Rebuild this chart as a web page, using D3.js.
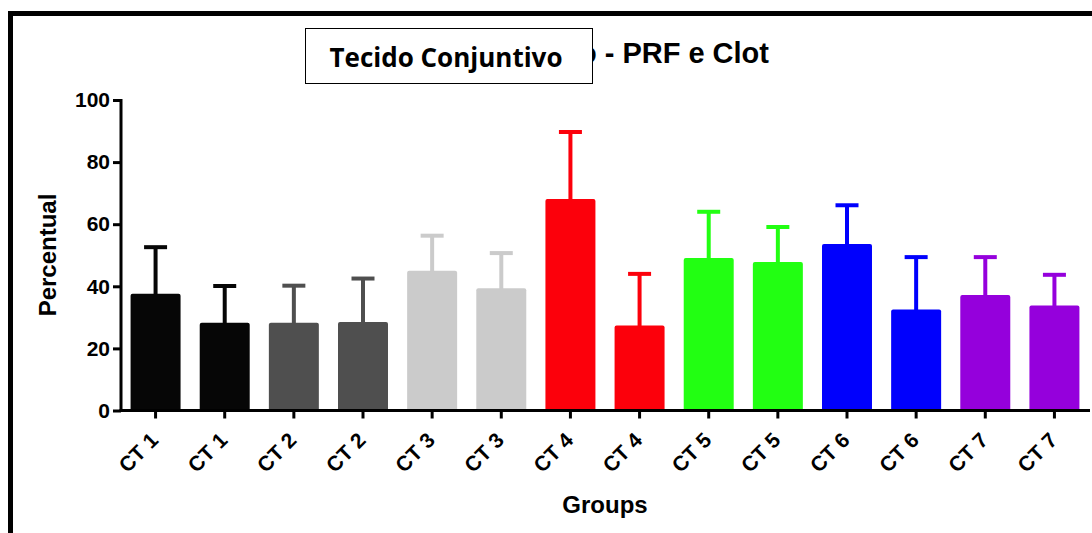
<!DOCTYPE html>
<html>
<head>
<meta charset="utf-8">
<script src="https://cdn.jsdelivr.net/npm/d3@7"></script>
<style>
  body { margin: 0; background: #fff; }
  svg { display: block; }
  text { font-family: "Liberation Sans", Arial, sans-serif; font-weight: bold; }
</style>
</head>
<body>
<svg width="1092" height="533"></svg>
<script>
// data
const groups = ['CT 1', 'CT 1', 'CT 2', 'CT 2', 'CT 3', 'CT 3', 'CT 4', 'CT 4', 'CT 5', 'CT 5', 'CT 6', 'CT 6', 'CT 7', 'CT 7'];
const means = [37.6, 28.3, 28.3, 28.5, 45.0, 39.4, 68.1, 27.4, 49.1, 47.8, 53.6, 32.5, 37.2, 33.8];
const errTops = [52.6, 40.1, 40.2, 42.5, 56.3, 50.7, 89.7, 44.0, 64.0, 59.1, 66.1, 49.4, 49.4, 43.7];
const colors = ['#060606', '#060606', '#4f4f4f', '#4f4f4f', '#cbcbcb', '#cbcbcb', '#fc000b', '#fc000b',
                '#22ff12', '#22ff12', '#0000fd', '#0000fd', '#9500dc', '#9500dc'];
const yTicks = [0, 20, 40, 60, 80, 100];

const data = groups.map((g, i) => ({ i, g, v: means[i], e: errTops[i], c: colors[i] }));

const svg = d3.select('svg');

// frame
svg.append('path')
    .attr('d', 'M10.5,533 V13.5 H1092')
    .attr('fill', 'none')
    .attr('stroke', '#000')
    .attr('stroke-width', 5);

const x = d3.scaleBand()
    .domain(d3.range(groups.length))
    .range([121, 1089])
    .paddingInner(0.277)
    .paddingOuter(0.1385);
const y = d3.scaleLinear().domain([0, 100]).range([410.5, 100]);

// bars
svg.selectAll('.bar')
    .data(data)
    .enter()
    .append('rect')
    .attr('class', 'bar')
    .attr('x', d => x(d.i))
    .attr('y', d => y(d.v))
    .attr('width', x.bandwidth())
    .attr('height', d => y(0) - y(d.v))
    .attr('rx', 2)
    .attr('fill', d => d.c);

// error bars
const eb = svg.selectAll('.err')
    .data(data)
    .enter()
    .append('g')
    .attr('class', 'err');
eb.append('line')
    .attr('x1', d => x(d.i) + x.bandwidth() / 2)
    .attr('x2', d => x(d.i) + x.bandwidth() / 2)
    .attr('y1', d => y(d.v) + 1)
    .attr('y2', d => y(d.e))
    .attr('stroke', d => d.c)
    .attr('stroke-width', 4);
eb.append('line')
    .attr('x1', d => x(d.i) + x.bandwidth() / 2 - 11.5)
    .attr('x2', d => x(d.i) + x.bandwidth() / 2 + 11.5)
    .attr('y1', d => y(d.e))
    .attr('y2', d => y(d.e))
    .attr('stroke', d => d.c)
    .attr('stroke-width', 4);

// y axis
const yAxis = svg.append('g')
    .attr('transform', 'translate(121,0)')
    .call(d3.axisLeft(y).tickValues(yTicks).tickSize(8).tickSizeOuter(0).tickPadding(3));
yAxis.select('.domain').attr('stroke-width', 3).attr('d', 'M0,99 V412');
yAxis.selectAll('.tick line').attr('stroke-width', 3);
yAxis.selectAll('.tick text')
    .attr('font-size', 21)
    .attr('fill', '#000');

// x axis
const xAxis = svg.append('g')
    .attr('transform', `translate(0,${y(0)})`)
    .call(d3.axisBottom(x).tickSize(8).tickSizeOuter(0).tickFormat(i => groups[i]));
xAxis.select('.domain').attr('stroke-width', 3).attr('d', 'M119.5,0 H1090');
xAxis.selectAll('.tick line').attr('stroke-width', 3);
xAxis.selectAll('.tick text')
    .attr('font-size', 21)
    .attr('fill', '#000')
    .attr('text-anchor', 'end')
    .attr('dy', 0)
    .attr('transform', 'translate(4,31) rotate(-45)')
    .attr('x', 0)
    .attr('y', 0);

// axis titles
svg.append('text')
    .attr('transform', 'translate(56,255) rotate(-90)')
    .attr('text-anchor', 'middle')
    .attr('font-size', 24)
    .text('Percentual');
svg.append('text')
    .attr('x', 605)
    .attr('y', 513)
    .attr('text-anchor', 'middle')
    .attr('font-size', 24)
    .text('Groups');

// original title, left part hidden under the label box
svg.append('clipPath')
    .attr('id', 'title-clip')
    .append('rect')
    .attr('x', 593)
    .attr('y', 20)
    .attr('width', 300)
    .attr('height', 70);
svg.append('text')
    .attr('x', 769)
    .attr('y', 63)
    .attr('text-anchor', 'end')
    .attr('font-size', 29)
    .attr('clip-path', 'url(#title-clip)')
    .text('o - PRF e Clot');
svg.append('rect')
    .attr('x', 305.5)
    .attr('y', 28.5)
    .attr('width', 287)
    .attr('height', 55)
    .attr('fill', '#fff')
    .attr('stroke', '#000')
    .attr('stroke-width', 1);
svg.append('text')
    .attr('x', 446)
    .attr('y', 67)
    .attr('text-anchor', 'middle')
    .attr('font-size', 26)
    .style('font-family', '"Open Sans", "Noto Sans", sans-serif')
    .text('Tecido Conjuntivo');
</script>
</body>
</html>
